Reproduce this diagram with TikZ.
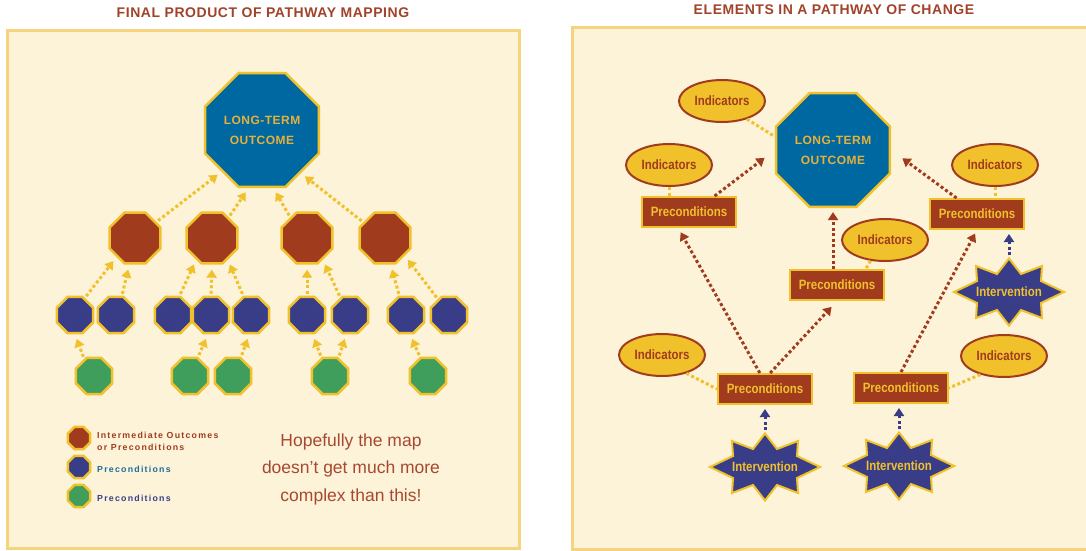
\documentclass[tikz,border=0pt]{standalone}
\usepackage{fontspec}
\setmainfont{Liberation Sans}
\newfontfamily\headfont[LetterSpace=4]{Liberation Sans}
\newfontfamily\narrowfont[FakeStretch=0.85]{Liberation Sans}
\newfontfamily\keyfont[LetterSpace=14]{Liberation Sans}
\usetikzlibrary{shapes.geometric,arrows.meta}

\definecolor{cream}{HTML}{FCF3D8}
\definecolor{frame}{HTML}{F6D37F}
\definecolor{rust}{HTML}{A03B1E}
\definecolor{gold}{HTML}{F1C12C}
\definecolor{ochre}{HTML}{E6B13A}
\definecolor{ltblue}{HTML}{0068A0}
\definecolor{navy}{HTML}{393D87}
\definecolor{leaf}{HTML}{3F9E5C}
\definecolor{titlered}{HTML}{A1432A}
\definecolor{notered}{HTML}{A84830}
\definecolor{keyblue}{HTML}{1F6C98}

\tikzset{
  panel/.style={draw=frame, fill=cream, line width=3},
  heading/.style={text=titlered, font={\headfont\bfseries\fontsize{14}{16}\selectfont}},
  oct/.style={regular polygon, regular polygon sides=8, draw=gold, line width=2.5, inner sep=0pt},
  bigoct/.style={oct, fill=ltblue, minimum size=123, text=ochre, align=center,
    font={\headfont\bfseries\fontsize{12}{20}\selectfont}},
  redoct/.style={oct, fill=rust, minimum size=55},
  blueoct/.style={oct, fill=navy, minimum size=39},
  greenoct/.style={oct, fill=leaf, minimum size=39},
  keyoct/.style={oct, minimum size=24},
  keytext/.style={anchor=west, align=left, inner sep=0pt, font={\keyfont\bfseries\fontsize{8.8}{12}\selectfont}},
  precond/.style={rectangle, fill=rust, draw=gold, line width=2, minimum width=94, minimum height=30,
    inner sep=0pt, text=gold, font={\narrowfont\bfseries\fontsize{13.5}{15}\selectfont}},
  indic/.style={ellipse, fill=gold, draw=rust, line width=2, minimum width=86, minimum height=42,
    inner sep=0pt, text=rust, font={\narrowfont\bfseries\fontsize{13.5}{15}\selectfont}},
  burst/.style={fill=navy, draw=gold, line width=2, line join=miter},
  burstlbl/.style={minimum width=110, minimum height=67, inner sep=0pt, text=gold,
    font={\narrowfont\bfseries\fontsize{13.5}{15}\selectfont}},
  dots/.style={line width=3, dash pattern=on 3pt off 2.5pt},
  tip/.style={-{Triangle[width=10pt,length=8pt]}},
  ylink/.style={dots, gold},
  yarr/.style={dots, gold, tip, shorten >=5pt, shorten <=2pt},
  rarr/.style={dots, rust, tip, shorten >=5pt},
  barr/.style={dots, navy, tip, shorten >=4pt, shorten <=3pt}
}

\begin{document}
\begin{tikzpicture}[x=1pt, y=-1pt]
\useasboundingbox (0,0) rectangle (1086,550);

\draw[panel] (7,30) rectangle (519,548);
\draw[panel] (572,27) rectangle (1092,549);

\node[heading] (head1) at (263,13) {FINAL PRODUCT OF PATHWAY MAPPING};
\node[heading] (head2) at (834,10) {ELEMENTS IN A PATHWAY OF CHANGE};

% left panel
\node[bigoct] (lt) at (262,130) {LONG-TERM\\OUTCOME};
\foreach \n/\x in {1/135, 2/212, 3/307, 4/385}
    \node[redoct] (r\n) at (\x,238) {};
\foreach \n/\x in {1/75, 2/116, 3/173, 4/211, 5/251, 6/307, 7/350, 8/406, 9/449}
    \node[blueoct] (b\n) at (\x,315) {};
\foreach \n/\x in {1/94, 2/190, 3/233, 4/330, 5/428}
    \node[greenoct] (g\n) at (\x,376) {};

\foreach \n/\p/\q in {1/37/226, 2/51/257, 3/129/281, 4/144/312}
    \draw[yarr] (r\n.\p) -- (lt.\q);
\foreach \n/\p/\m/\q in {1/60/1/226, 2/73/1/258, 3/71/2/234, 4/90/2/270, 5/112/2/306,
	6/90/3/270, 7/119/3/306, 8/109/4/282, 9/125/4/318}
    \draw[yarr] (b\n.\p) -- (r\m.\q);
\foreach \n/\p/\m/\q in {1/120/1/270, 2/67/4/261, 3/67/5/265, 4/115/6/286, 4/65/7/259,
	5/113/8/282}
    \draw[yarr] (g\n.\p) -- (b\m.\q);

\node[keyoct, fill=rust] (k1) at (79,438) {};
\node[keyoct, fill=navy] (k2) at (79,467) {};
\node[keyoct, fill=leaf] (k3) at (79,496) {};
\node[keytext, text=rust] (k1t) at (97,441) {Intermediate Outcomes\\or Preconditions};
\node[keytext, text=keyblue] (k2t) at (97,469) {Preconditions};
\node[keytext, text=navy] (k3t) at (97,498) {Preconditions};

\node[align=center, text=notered, font={\fontsize{17.5}{27.5}\selectfont}] (note) at (351,469)
    {Hopefully the map\\doesn’t get much more\\complex than this!};

% right panel
\node[bigoct] (lt2) at (833,150) {LONG-TERM\\OUTCOME};

\node[indic] (i1) at (722,101) {Indicators};
\node[indic] (i2) at (669,165) {Indicators};
\node[indic] (i3) at (995,165) {Indicators};
\node[indic] (i4) at (885,240) {Indicators};
\node[indic] (i5) at (662,355) {Indicators};
\node[indic] (i6) at (1004,356) {Indicators};

\node[precond] (p1) at (689,212) {Preconditions};
\node[precond] (p2) at (977,214) {Preconditions};
\node[precond] (p3) at (837,285) {Preconditions};
\node[precond] (p4) at (765,389) {Preconditions};
\node[precond] (p5) at (901,388) {Preconditions};

\foreach \x/\y in {1009/292, 765/467, 899/466}
    \draw[burst, shift={(\x,\y)}] (55,0) -- (32,-11) -- (33,-26) -- (12,-18) -- (0,-33.5)
	-- (-12,-18) -- (-33,-26) -- (-32,-11) -- (-55,0) -- (-32,11) -- (-33,26)
	-- (-12,18) -- (0,33.5) -- (12,18) -- (33,26) -- (32,11) -- cycle;
\node[burstlbl] (s1) at (1009,292) {Intervention};
\node[burstlbl] (s2) at (765,467) {Intervention};
\node[burstlbl] (s3) at (899,466) {Intervention};

\draw[ylink] (i1.324) -- (lt2.167);
\draw[ylink] (i2.south) -- (i2.south |- p1.north);
\draw[ylink] (i3.south) -- (i3.south |- p2.north);
\draw[ylink] (i4.235) -- (p3.29);
\draw[ylink] (i5.323) -- (p4.west);
\draw[ylink] (i6.218) -- (p5.east);

\draw[rarr, shorten >=13pt] (p1.32) -- (lt2.west);
\draw[rarr, shorten >=14pt] (p2.142) -- (lt2.east);
\draw[rarr, shorten >=4pt] (lt2.south |- p3.north) -- (lt2.south);
\draw[rarr] (p4.108) -- (p1.236);
\draw[rarr, shorten >=8pt] (p4.72) -- (p3.south);
\draw[rarr, shorten >=4pt] (p5.north) -- (p2.south);

\draw[barr] (s1.north) -- (s1.north |- p2.south);
\draw[barr] (s2.north) -- (p4.south);
\draw[barr] (s3.north) -- (s3.north |- p5.south);
\end{tikzpicture}
\end{document}
